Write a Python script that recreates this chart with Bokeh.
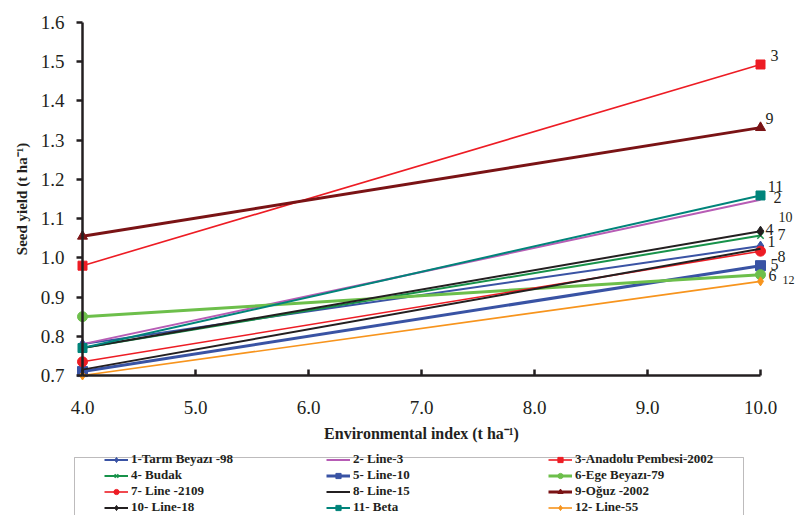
from bokeh.plotting import figure
from bokeh.models import (Range1d, FixedTicker, NumeralTickFormatter, Legend,
                          LegendItem, ColumnDataSource, BoxAnnotation)
from bokeh.core.properties import value
from bokeh.embed import file_html
from bokeh.resources import INLINE

# ---------------- data ----------------
env_index = [4.0, 10.0]
genotypes = ["1-Tarm Beyazı -98", "2- Line-3", "3-Anadolu Pembesi-2002",
             "4- Budak", "5- Line-10", "6-Ege Beyazı-79",
             "7- Line -2109", "8- Line-15", "9-Oğuz -2002",
             "10- Line-18", "11- Beta", "12- Line-55"]
tags = ["1", "2", "3", "4", "5", "6", "7", "8", "9", "10", "11", "12"]
yield_1 = [0.780, 1.030]
yield_2 = [0.780, 1.148]
yield_3 = [0.980, 1.493]
yield_4 = [0.770, 1.057]
yield_5 = [0.710, 0.980]
yield_6 = [0.850, 0.957]
yield_7 = [0.735, 1.017]
yield_8 = [0.715, 1.023]
yield_9 = [1.055, 1.332]
yield_10 = [0.770, 1.068]
yield_11 = [0.770, 1.159]
yield_12 = [0.700, 0.940]
series = [yield_1, yield_2, yield_3, yield_4, yield_5, yield_6,
          yield_7, yield_8, yield_9, yield_10, yield_11, yield_12]
x_ticks = [4.0, 5.0, 6.0, 7.0, 8.0, 9.0, 10.0]
y_ticks = [0.7, 0.8, 0.9, 1.0, 1.1, 1.2, 1.3, 1.4, 1.5, 1.6]

# ---------------- styles ----------------
colors = ["#3a53a4", "#b75cb5", "#ed1c24", "#17924a", "#3953a4", "#6dbf4b",
          "#ed1c24", "#231f20", "#7a1315", "#231f20", "#00847a", "#f7941d"]
markers = ["diamond", None, "square", "x", "square", "circle",
           "circle", None, "triangle", "diamond", "square", "diamond"]
widths = [2, 2, 1.6, 2, 3, 3, 1.6, 2, 3, 2, 2, 1.6]
msizes = [10, 0, 9, 9, 10, 10, 10, 0, 10, 10, 9, 9]
# end-label offsets in screen pixels (dx right, dy down)
lab_dx = [11, 17, 14, 9, 14, 12, 21, 21, 9, 25, 15, 28]
lab_dy = [-5, -2, -9, -6, -1, 1, -17, 8, -9, -14, -9, -1]
lab_size = ["16px", "16px", "16px", "16px", "16px", "16px",
            "16px", "16px", "16px", "14px", "16px", "12px"]

FONT = "Liberation Serif"
INK = "#231f20"
W, H = 796, 515
# the frame fills the whole canvas; ranges chosen so that the data box
# (4..10, 0.7..1.6) sits where the reference draws it
PX_X = 113.0      # pixels per x unit
PX_Y = 392.2      # pixels per y unit
X0_PX, Y0_PX = 82, 375   # canvas pixel of (4.0, 0.7)

p = figure(width=W, height=H,
           x_range=Range1d(4 - X0_PX / PX_X, 4 + (W - X0_PX) / PX_X),
           y_range=Range1d(0.7 - (H - Y0_PX) / PX_Y, 0.7 + Y0_PX / PX_Y),
           output_backend="svg", toolbar_location=None,
           min_border_left=0, min_border_right=0, min_border_top=0,
           min_border_bottom=0)
p.outline_line_color = None
p.grid.visible = False
p.background_fill_color = "white"
p.border_fill_color = "white"

# axes
xa = p.xaxis[0]
ya = p.yaxis[0]
xa.fixed_location = 0.7
ya.fixed_location = 4.0
xa.bounds = (4.0, 10.0)
ya.bounds = (0.7, 1.6)
xa.ticker = FixedTicker(ticks=x_ticks)
ya.ticker = FixedTicker(ticks=y_ticks)
for ax in (xa, ya):
    ax.formatter = NumeralTickFormatter(format="0.0")
    ax.axis_line_color = INK
    ax.axis_line_width = 2.5
    ax.major_tick_line_color = INK
    ax.major_tick_line_width = 2.5
    ax.minor_tick_line_color = None
    ax.major_label_text_font = FONT
    ax.major_label_text_font_size = "19px"
    ax.major_label_text_color = INK
    ax.axis_label_text_font = FONT
    ax.axis_label_text_font_style = "bold"
    ax.axis_label_text_color = INK
xa.major_tick_in = 6
xa.major_tick_out = 0
xa.major_label_standoff = 25
xa.axis_label = "Environmental index (t ha⁻¹)"
xa.axis_label_text_font_size = "16px"
xa.axis_label_standoff = 8
ya.major_tick_in = 0
ya.major_tick_out = 6
ya.major_label_standoff = 12
ya.axis_label = "Seed yield (t ha⁻¹)"
ya.axis_label_text_font_size = "15px"
ya.axis_label_standoff = 8

items = []
for i, ys in enumerate(series):
    src = ColumnDataSource(dict(x=env_index, y=ys))
    rs = [p.line("x", "y", source=src, line_color=colors[i], line_width=widths[i])]
    if markers[i] is not None:
        if markers[i] == "x":
            rs.append(p.scatter("x", "y", source=src, marker="x", size=msizes[i],
                                line_color=colors[i], line_width=1.5))
        else:
            rs.append(p.scatter("x", "y", source=src, marker=markers[i], size=msizes[i],
                                fill_color=colors[i], line_color=colors[i]))
    items.append(LegendItem(label=genotypes[i], renderers=rs))

# end labels
lab_src = ColumnDataSource(dict(
    x=[env_index[-1]] * len(series), y=[s[-1] for s in series], t=tags,
    dx=lab_dx, dy=lab_dy, fs=lab_size))
p.text("x", "y", text="t", source=lab_src, x_offset="dx", y_offset="dy",
       text_font=value(FONT), text_font_size="fs", text_color=INK,
       text_align="center", text_baseline="middle")

# legend frame (its lower edge runs off the page as in the reference)
p.add_layout(BoxAnnotation(left=74, right=743, top=457, bottom=560,
                           left_units="canvas", right_units="canvas",
                           top_units="canvas", bottom_units="canvas",
                           fill_color=None, line_color=INK, line_width=1))

legend = Legend(items=items, orientation="horizontal", ncols=3,
                location=(104, 0), margin=0, padding=0, spacing=-4,
                glyph_width=24, glyph_height=13, label_height=13,
                label_width=195, label_standoff=3,
                label_text_font=FONT, label_text_font_style="bold",
                label_text_font_size="13px", label_text_line_height=1.0,
                label_text_color=INK,
                border_line_color=None, background_fill_alpha=0)
p.add_layout(legend, "center")

open("out.html", "w").write(file_html(p, INLINE))
